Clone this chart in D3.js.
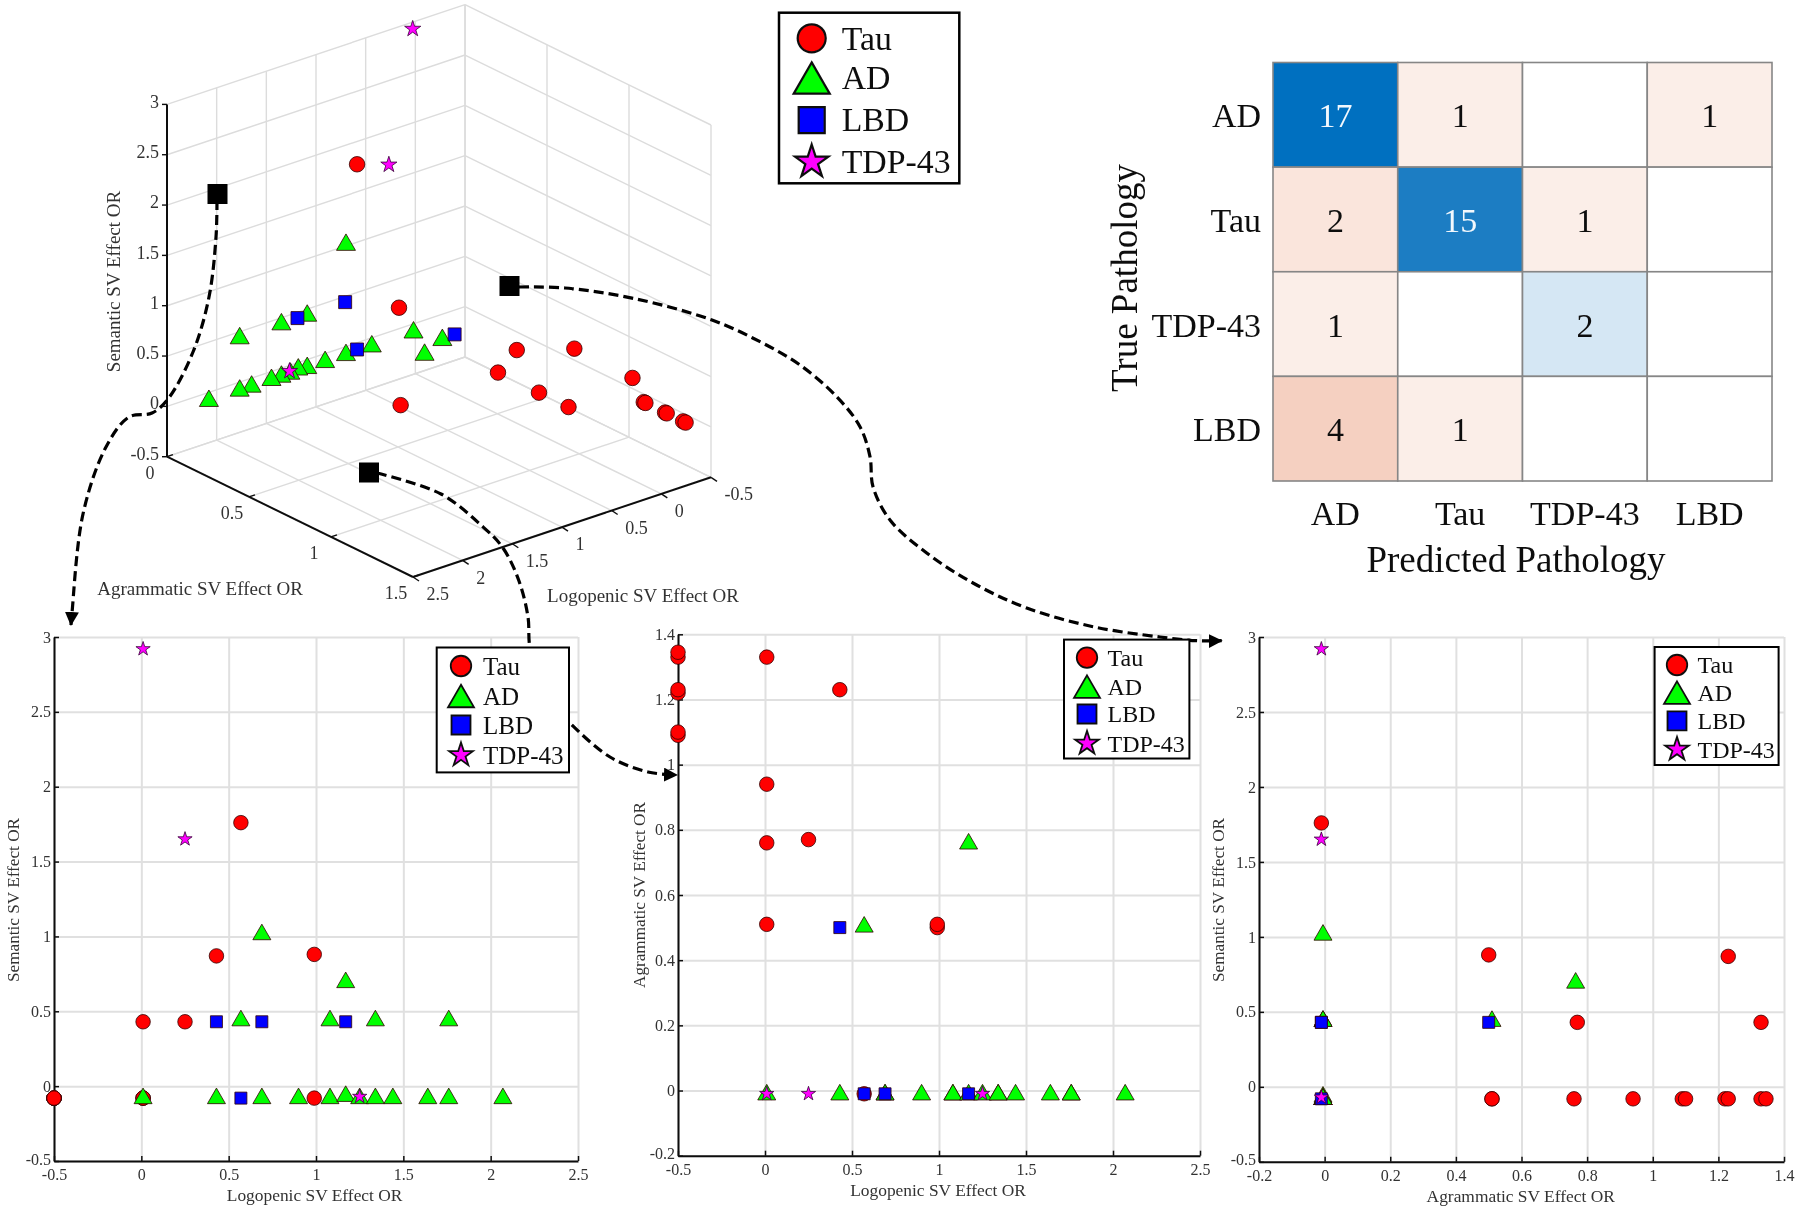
<!DOCTYPE html>
<html><head><meta charset="utf-8">
<script src="https://cdnjs.cloudflare.com/ajax/libs/d3/7.8.5/d3.min.js"></script>
<style>html,body{margin:0;padding:0;background:#fff}svg{display:block}</style>
</head><body><svg id="c" width="1800" height="1210"></svg>
<script>
// ---- data: [logopenic, agrammatic, semantic, optional semantic as drawn in the 3D view]
const tauPoints = [[0.57,-0.01,1.76],[0.99,0.50,0.88],[0.43,1.23,0.87],[0.25,0.77,0.43],[0.01,1.33,0.43,0.52],
  [0.99,0.51,-0.08],[0.01,0.51,-0.08],[0.01,0.76,-0.08],[0.01,0.94,-0.08],
  [-0.5,1.09,-0.08],[-0.5,1.10,-0.08],[-0.5,1.22,-0.08],[-0.5,1.23,-0.08],[-0.5,1.33,-0.08],[-0.5,1.345,-0.08]];
const adPoints = [[0.69,-0.005,1.03],[1.17,0.765,0.71],[0.57,0.51,0.455],[1.08,-0.005,0.455],[1.34,-0.005,0.455],[1.76,-0.005,0.455],
  [0.01,-0.005,-0.065],[0.43,-0.005,-0.065],[0.69,-0.005,-0.065],[0.90,-0.005,-0.065],[1.08,-0.005,-0.065],[1.17,-0.005,-0.05],
  [1.25,-0.005,-0.065],[1.34,-0.005,-0.065],[1.44,-0.005,-0.065],[1.64,-0.005,-0.065],[1.76,-0.005,-0.065],[2.07,-0.005,-0.065]];
const lbdPoints = [[0.43,0.50,0.43],[0.69,-0.01,0.43],[1.17,-0.01,0.43],[0.57,-0.01,-0.08]];
const tdpPoints = [[0.01,-0.01,2.92],[0.25,-0.01,1.65],[1.25,-0.01,-0.07]];
const legendNames = ["Tau","AD","LBD","TDP-43"];
const matrixTrue = ["AD","Tau","TDP-43","LBD"];
const matrixPred = ["AD","Tau","TDP-43","LBD"];
const matrixCounts = [[17,1,0,1],[2,15,1,0],[1,0,2,0],[4,1,0,0]];
const logoTicks = [-0.5,0,0.5,1,1.5,2,2.5];
const agrTicks3d = [0,0.5,1,1.5];
const agrTicks = [-0.2,0,0.2,0.4,0.6,0.8,1,1.2,1.4];
const semTicks = [-0.5,0,0.5,1,1.5,2,2.5,3];
const axisLabels = {logo:"Logopenic SV Effect OR",agr:"Agrammatic SV Effect OR",sem:"Semantic SV Effect OR"};

// ---- setup
const svg = d3.select("#c");
svg.append("defs").html(`
 <filter id="soft" x="0" y="0" width="100%" height="100%" filterUnits="userSpaceOnUse" primitiveUnits="userSpaceOnUse"><feGaussianBlur stdDeviation="0.45"/></filter>
 <marker id="head" markerUnits="userSpaceOnUse" markerWidth="18" markerHeight="14" refX="13" refY="7" orient="auto"><path d="M0,0L14,7L0,14Z" fill="#000"/></marker>`);
const root = svg.append("g").attr("filter","url(#soft)");
const FONT = "'Liberation Serif','Times New Roman',serif";
const text = (g,x,y,s,size,o={}) => g.append("text").attr("x",x).attr("y",y).attr("dy",".34em")
  .attr("font-family",FONT).attr("font-size",size).attr("fill",o.fill||"#111")
  .attr("text-anchor",o.anchor||"middle").attr("transform",o.rot?`rotate(${o.rot},${x},${y})`:null).text(s);
const series = [
 {name:"Tau",pts:tauPoints,fill:"#ff0000",type:"circle"},
 {name:"AD",pts:adPoints,fill:"#00ff00",type:"triangle"},
 {name:"LBD",pts:lbdPoints,fill:"#0000ff",type:"square"},
 {name:"TDP-43",pts:tdpPoints,fill:"#ff00ff",type:"star"}];
// marker shape: dim is diameter/side/width; star dim is the outer diameter
const symbolPath = (type,dim) => {
  if(type==="circle") return d3.symbol(d3.symbolCircle,Math.PI*dim*dim/4)();
  if(type==="square") return d3.symbol(d3.symbolSquare,dim*dim)();
  if(type==="triangle") return d3.symbol(d3.symbolTriangle,dim*dim*0.433)();
  return d3.symbol(d3.symbolStar,(dim*dim/4)/0.8908)();
};
// d3 centres triangles on the centroid; the reference centres them on the bounding box
const markerDy = (type,dim) => type==="triangle" ? dim*0.866/6 : 0;
function drawMarkers(g,px,py,dims,strokeW){
  series.forEach(s=>{
    const dy = markerDy(s.type,dims[s.type]);
    g.append("g").selectAll("path").data(s.pts).join("path")
     .attr("d",symbolPath(s.type,dims[s.type]))
     .attr("transform",d=>`translate(${px(d)},${py(d)+dy})`)
     .attr("fill",s.fill).attr("stroke",s.type==="star"?"#3a003a":"#300").attr("stroke-width",strokeW);
  });
}
function drawLegend(g,box,ys,mx,tx,fs,dims,sw){
  const l = g.append("g");
  l.append("rect").attr("x",box[0]).attr("y",box[1]).attr("width",box[2]-box[0]).attr("height",box[3]-box[1])
   .attr("fill","#fff").attr("stroke","#000").attr("stroke-width",sw);
  series.forEach((s,i)=>{
    l.append("path").attr("d",symbolPath(s.type,dims[s.type])).attr("transform",`translate(${mx},${ys[i]+markerDy(s.type,dims[s.type])})`)
     .attr("fill",s.fill).attr("stroke","#111").attr("stroke-width",sw*0.9);
    text(l,tx,ys[i],legendNames[i],fs,{anchor:"start"});
  });
}

// ---- 2D panels
function panel(cfg){
  const g = root.append("g");
  const x = d3.scaleLinear().domain(cfg.xd).range(cfg.xr);
  const y = d3.scaleLinear().domain(cfg.yd).range(cfg.yr);
  const W = cfg.xr[1]-cfg.xr[0], H = cfg.yr[0]-cfg.yr[1];
  const fmt = d=>String(d);
  const gridStyle = a => { a.selectAll("line").attr("stroke","#e0e0e0").attr("stroke-width",2); a.select(".domain").remove(); };
  g.append("g").attr("transform",`translate(0,${cfg.yr[0]})`)
    .call(d3.axisBottom(x).tickValues(cfg.xt).tickSize(-H).tickFormat("")).call(gridStyle);
  g.append("g").attr("transform",`translate(${cfg.xr[0]},0)`)
    .call(d3.axisLeft(y).tickValues(cfg.yt).tickSize(-W).tickFormat("")).call(gridStyle);
  const axStyle = a => {
    a.select(".domain").attr("stroke","#111").attr("stroke-width",2);
    a.selectAll("line").attr("stroke","#111").attr("stroke-width",1.5);
    a.selectAll("text").attr("font-family",FONT).attr("font-size",16).attr("fill","#333");
  };
  g.append("g").attr("transform",`translate(0,${cfg.yr[0]})`)
    .call(d3.axisBottom(x).tickValues(cfg.xt).tickSizeInner(-5).tickSizeOuter(0).tickPadding(8).tickFormat(fmt)).call(axStyle);
  const ya = g.append("g").attr("transform",`translate(${cfg.xr[0]},0)`)
    .call(d3.axisLeft(y).tickValues(cfg.yt).tickSizeInner(-5).tickSizeOuter(0).tickPadding(3).tickFormat(fmt)).call(axStyle);
  ya.selectAll(".tick text").filter(d=>d===cfg.yd[0]).attr("y",-2);
  text(g,cfg.xl[0],cfg.xl[1],cfg.xt_label,17.4,{fill:"#333"});
  text(g,cfg.yl[0],cfg.yl[1],cfg.yt_label,17.2,{fill:"#333",rot:-90});
  drawMarkers(g,d=>x(d[cfg.xi]),d=>y(d[cfg.yi]),{circle:14.5,triangle:18,square:12,star:15},0.8);
}
panel({xd:[-0.5,2.5],xr:[54,578],yd:[-0.5,3],yr:[1161,637],xt:logoTicks,yt:semTicks,xi:0,yi:2,
  xt_label:axisLabels.logo,yt_label:axisLabels.sem,xl:[314.6,1195],yl:[13.4,900]});
panel({xd:[-0.5,2.5],xr:[678,1200],yd:[-0.2,1.4],yr:[1155.7,634.3],xt:logoTicks,yt:agrTicks,xi:0,yi:1,
  xt_label:axisLabels.logo,yt_label:axisLabels.agr,xl:[938,1190],yl:[638.7,895]});
panel({xd:[-0.2,1.4],xr:[1259,1784],yd:[-0.5,3],yr:[1161.8,637],xt:agrTicks,yt:semTicks,xi:1,yi:2,
  xt_label:axisLabels.agr,yt_label:axisLabels.sem,xl:[1520.7,1195.6],yl:[1218.4,900]});

// ---- 3D panel (orthographic projection built from linear scales)
const g3 = root.append("g");
const logoDX = d3.scaleLinear().domain([-0.5,2.5]).range([0,-298]);
const logoDY = d3.scaleLinear().domain([-0.5,2.5]).range([0,99.7]);
const agrDX  = d3.scaleLinear().domain([0,1.5]).range([0,246]);
const agrDY  = d3.scaleLinear().domain([0,1.5]).range([0,120.3]);
const semDY  = d3.scaleLinear().domain([-0.5,3]).range([0,-352.3]);
const P = (logo,agr,sem) => [465+logoDX(logo)+agrDX(agr), 357+logoDY(logo)+agrDY(agr)+semDY(sem)];
const seg = (g,a,b,stroke,w) => g.append("line").attr("x1",a[0]).attr("y1",a[1]).attr("x2",b[0]).attr("y2",b[1]).attr("stroke",stroke).attr("stroke-width",w);
const GRID="#dcdcdc";
logoTicks.forEach(l=>{ seg(g3,P(l,0,-0.5),P(l,1.5,-0.5),GRID,1.4); seg(g3,P(l,0,-0.5),P(l,0,3),GRID,1.4); });
agrTicks3d.forEach(a=>{ seg(g3,P(-0.5,a,-0.5),P(2.5,a,-0.5),GRID,1.4); seg(g3,P(-0.5,a,-0.5),P(-0.5,a,3),GRID,1.4); });
semTicks.forEach(s=>{ seg(g3,P(2.5,0,s),P(-0.5,0,s),GRID,1.4); seg(g3,P(-0.5,0,s),P(-0.5,1.5,s),GRID,1.4); });
seg(g3,P(2.5,0,-0.5),P(2.5,0,3),"#111",2);
seg(g3,P(2.5,0,-0.5),P(2.5,1.5,-0.5),"#111",2);
seg(g3,P(2.5,1.5,-0.5),P(-0.5,1.5,-0.5),"#111",2);
semTicks.forEach(s=>{ const p=P(2.5,0,s); seg(g3,p,[p[0]-5,p[1]],"#111",1.4);
  text(g3,p[0]-8,p[1]-3,String(s),18,{anchor:"end",fill:"#333"}); });
agrTicks3d.forEach(a=>{ const p=P(2.5,a,-0.5); seg(g3,p,[p[0]+6,p[1]-2],"#111",1.4);
  text(g3,p[0]-17,p[1]+16,String(a),18,{fill:"#333"}); });
logoTicks.forEach(l=>{ const p=P(l,1.5,-0.5); seg(g3,p,[p[0]+6,p[1]+4],"#111",1.4);
  text(g3,p[0]+13.5,p[1]+17,String(l),18,{anchor:"start",fill:"#333"}); });
text(g3,200,589,axisLabels.agr,19,{fill:"#333"});
text(g3,643,596,axisLabels.logo,19,{fill:"#333"});
text(g3,114,281.5,axisLabels.sem,19,{fill:"#333",rot:-90});
drawMarkers(g3,d=>P(d[0],d[1],d[3]??d[2])[0],d=>P(d[0],d[1],d[3]??d[2])[1],{circle:15.5,triangle:19,square:13,star:17},0.8);

// ---- confusion matrix
const gm = root.append("g");
const cx = d3.scaleBand().domain(matrixPred).range([1273,1772]);
const cy = d3.scaleBand().domain(matrixTrue).range([62.5,481]);
const diagColor = d3.scaleLinear().domain([0,2,15,17]).range(["#ffffff","#d5e7f4","#1b7dc3","#006fc0"]);
const offColor  = d3.scaleLinear().domain([0,1,2,4]).range(["#ffffff","#fbeee8","#fae5dc","#f5d0c1"]);
matrixCounts.forEach((row,r)=>row.forEach((v,c)=>{
  gm.append("rect").attr("x",cx(matrixPred[c])).attr("y",cy(matrixTrue[r])).attr("width",cx.bandwidth()).attr("height",cy.bandwidth())
    .attr("fill",r===c?diagColor(v):offColor(v)).attr("stroke","#868686").attr("stroke-width",1.6);
}));
matrixCounts.forEach((row,r)=>row.forEach((v,c)=>{
  if(v>0) text(gm,cx(matrixPred[c])+cx.bandwidth()/2,cy(matrixTrue[r])+cy.bandwidth()/2+1,String(v),34,{fill:v>10?"#f2f8fd":"#111"});
}));
matrixTrue.forEach(n=>text(gm,1261,cy(n)+cy.bandwidth()/2+1,n,34,{anchor:"end"}));
matrixPred.forEach(n=>text(gm,cx(n)+cx.bandwidth()/2,513,n,34));
text(gm,1516,559,"Predicted Pathology",37);
text(gm,1124.5,278,"True Pathology",37,{rot:-90});

// ---- dashed connectors (annotations)
const connectorPaths = [
 [[217,200],[216,237],[209,297],[193,352],[168,399],[152,413],[129,417],[106,447],[83,514],[72,613],[71,625]],
 [[377,473],[441,494],[482,526],[503,548],[519,581],[528,617],[530,648],[545,695],[569,722],[610,757],[648,772],[677,775]],
 [[519,287],[565,288],[634,298.5],[712,320],[760,341.7],[800,365],[836.7,396.7],[860,426.7],[870,456.7],[873,486.7],[890,520],[926.7,553],[973,583],[1026.7,608],[1093,626.7],[1160,637],[1197,640.7],[1221.7,640.7]]
];
const gc = root.append("g");
const lineGen = d3.line().curve(d3.curveCatmullRom.alpha(0.5));
connectorPaths.forEach(p=>gc.append("path").attr("d",lineGen(p)).attr("fill","none").attr("stroke","#000")
  .attr("stroke-width",3.2).attr("stroke-dasharray","10 5").attr("marker-end","url(#head)"));
const connectorSquares = [[217.5,194],[509.5,286],[369,472.5]];
gc.selectAll("rect").data(connectorSquares).join("rect").attr("x",d=>d[0]-10).attr("y",d=>d[1]-10).attr("width",20).attr("height",20).attr("fill","#000");

// ---- legends
const smallDims = {circle:20.5,triangle:26,square:19,star:25};
drawLegend(root,[779,12.7,959.3,183.3],[38.3,78,120,162],811.7,841.7,33.8,{circle:28,triangle:36,square:26,star:35},2.5);
drawLegend(root,[436.7,647.5,569,772.4],[666,696,725,755],461,483,25,smallDims,2);
drawLegend(root,[1064,639.6,1189.4,758.5],[657.6,686.6,714,743.4],1087,1107.5,24,smallDims,2);
drawLegend(root,[1654.6,647,1778.6,765],[665,692.6,720.8,749.4],1677,1697.5,24,smallDims,2);
</script></body></html>
